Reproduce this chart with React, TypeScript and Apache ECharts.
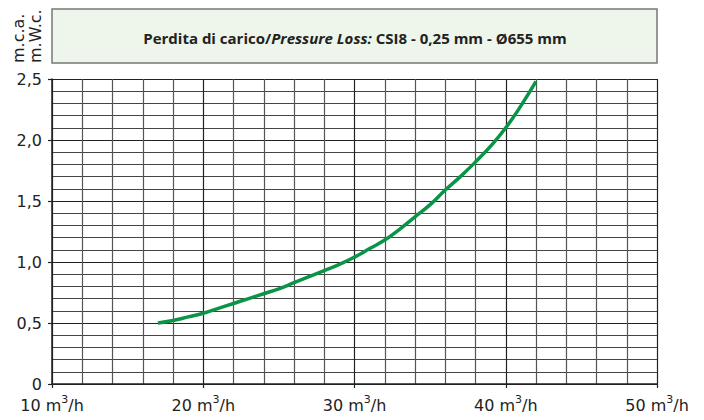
import React, { useEffect, useRef } from "react";
import * as echarts from "echarts";

const flow = [17, 18, 19, 20, 21, 22, 23, 24, 25, 26, 27, 28, 29, 30, 31, 32, 33, 34, 35, 36, 37, 38, 39, 40, 41, 42];
const loss = [0.5, 0.52, 0.55, 0.58, 0.62, 0.66, 0.7, 0.74, 0.78, 0.83, 0.88, 0.93, 0.98, 1.04, 1.11, 1.18, 1.27, 1.37, 1.47, 1.59, 1.7, 1.82, 1.95, 2.1, 2.28, 2.48];
const xTicks = [10, 20, 30, 40, 50];
const yTicks = [0, 0.5, 1.0, 1.5, 2.0, 2.5];
const unitLabels = ["m.c.a.", "m.W.c."];
const titleParts = ["Perdita di carico/", "Pressure Loss:", " CSI8 - 0,25 mm - Ø655 mm"];

export default function App() {
  const ref = useRef<HTMLDivElement>(null);
  useEffect(() => {
    if (!ref.current) return;
    const chart = echarts.init(ref.current, null, { renderer: "svg" });
    const font = "DejaVu Sans";
    chart.setOption({
      animation: false,
      backgroundColor: "#ffffff",
      grid: { left: 52, right: 47, top: 79, bottom: 36, containLabel: false },
      xAxis: {
        type: "value",
        min: xTicks[0],
        max: xTicks[xTicks.length - 1],
        interval: 10,
        axisLine: { show: true, onZero: false, lineStyle: { color: "#222", width: 1.5 } },
        axisTick: { show: true, length: 4, inside: false, lineStyle: { color: "#222", width: 1.2 } },
        axisLabel: {
          margin: 10,
          formatter: (v: number) => `{a|${v} m}{s|3}{a|/h}`,
          rich: {
            a: { fontFamily: font, fontSize: 16, color: "#222" },
            s: { fontFamily: font, fontSize: 11, color: "#222", padding: [0, 0, 12, 0] },
          },
        },
        splitLine: { show: true, lineStyle: { color: "#222", width: 1.2 } },
        minorTick: { show: false, splitNumber: 5 },
        minorSplitLine: { show: true, lineStyle: { color: "#555", width: 1.2 } },
      },
      yAxis: {
        type: "value",
        min: yTicks[0],
        max: yTicks[yTicks.length - 1],
        interval: 0.5,
        axisLine: { show: true, lineStyle: { color: "#222", width: 1.5 } },
        axisTick: { show: true, length: 4, lineStyle: { color: "#222", width: 1.2 } },
        axisLabel: {
          margin: 10,
          fontFamily: font,
          fontSize: 16,
          color: "#222",
          formatter: (v: number) => (v === 0 ? "0" : v.toFixed(1).replace(".", ",")),
        },
        splitLine: { show: true, lineStyle: { color: "#222", width: 1.2 } },
        minorTick: { show: false, splitNumber: 5 },
        minorSplitLine: { show: true, lineStyle: { color: "#444", width: 1.2 } },
      },
      graphic: [
        {
          type: "rect",
          shape: { x: 52, y: 9, width: 605, height: 54 },
          style: { fill: "#eef5ea", stroke: "#777", lineWidth: 1.5 },
        },
        {
          type: "text",
          x: 355,
          y: 38,
          style: {
            text: `{b|${titleParts[0]}}{bi|${titleParts[1]}}{b|${titleParts[2]}}`,
            align: "center",
            verticalAlign: "middle",
            rich: {
              b: { fontFamily: "Open Sans", fontWeight: "bold", fontSize: 15, fill: "#222" },
              bi: { fontFamily: "Open Sans", fontWeight: "bold", fontStyle: "italic", fontSize: 15, fill: "#222" },
            },
          },
        },
        {
          type: "text",
          x: 18,
          y: 63,
          rotation: Math.PI / 2,
          style: { text: unitLabels[0], fontFamily: font, fontSize: 16, fill: "#222", align: "left", verticalAlign: "middle" },
        },
        {
          type: "text",
          x: 35.5,
          y: 63,
          rotation: Math.PI / 2,
          style: { text: unitLabels[1], fontFamily: font, fontSize: 16, fill: "#222", align: "left", verticalAlign: "middle" },
        },
      ],
      series: [
        {
          type: "line",
          data: flow.map((f, i) => [f, loss[i]]),
          smooth: true,
          showSymbol: false,
          lineStyle: { color: "#0a9447", width: 3.5 },
          z: 5,
        },
      ],
    });
    return () => chart.dispose();
  }, []);
  return <div ref={ref} style={{ width: 704, height: 420, position: "absolute", left: 0, top: 0 }} />;
}
